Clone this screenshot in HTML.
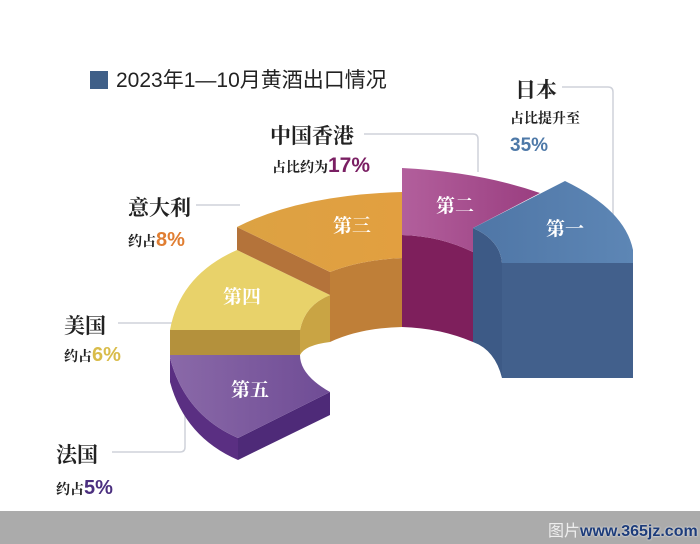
<!DOCTYPE html>
<html><head><meta charset="utf-8"><style>
body{margin:0;width:700px;height:544px;background:#fff;overflow:hidden;position:relative;font-family:"Liberation Serif","Noto Serif CJK SC",serif}
.t{position:absolute;white-space:nowrap;color:#222;font-weight:bold}
</style></head><body>
<div style="position:absolute;left:90px;top:64px;font-family:'Liberation Sans','Noto Sans CJK SC',sans-serif;font-size:21px;color:#222"><span style="display:inline-block;width:18px;height:18px;background:#3f5f88;vertical-align:-2px;margin-right:8px"></span>2023年1—10月黄酒出口情况</div>
<svg width="700" height="544" style="position:absolute;left:0;top:0">
<defs>
<linearGradient id="gb" x1="0" x2="1"><stop offset="0" stop-color="#4f76a6"/><stop offset="1" stop-color="#5d86b5"/></linearGradient>
<linearGradient id="gm" x1="0" x2="1"><stop offset="0" stop-color="#b25f9c"/><stop offset="1" stop-color="#9a3e80"/></linearGradient>
<linearGradient id="go" x1="0" x2="1"><stop offset="0" stop-color="#dca243"/><stop offset="1" stop-color="#e29f40"/></linearGradient>
<linearGradient id="gp" x1="0" x2="1"><stop offset="0" stop-color="#8a69a8"/><stop offset="1" stop-color="#6f4c95"/></linearGradient>
</defs>
<g fill="none" stroke="#cfd2da" stroke-width="1.5">
<path d="M562 87 H608 Q613 87 613 92 V215"/>
<path d="M364 134 H473 Q478 134 478 139 V172"/>
<path d="M196 205 H240"/>
<path d="M118 323 H172"/>
<path d="M112 452 H180 Q185 452 185 447 V405"/>
</g>
<!-- purple -->
<path d="M170 358 Q185 415 238 438 L238 460 Q185 437 170 382 Z" fill="#5a2f82"/>
<path d="M238 438 L330 392 L330 415 L238 460 Z" fill="#4e2a78"/>
<path d="M170 355 L300 355 Q300 375 330 392 L238 438 Q185 415 170 358 Z" fill="url(#gp)"/>
<!-- yellow -->
<path d="M170 330 L300 330 L300 355 L170 355 Z" fill="#b4913c"/>
<path d="M300 330 Q305 305 330 295 L330 342 Q305 345 300 355 Z" fill="#c9a444"/>
<path d="M170 330 Q180 275 237 250 L330 295 Q305 305 300 330 Z" fill="#e8d26a"/>
<!-- orange -->
<path d="M237 227 L330 272 L330 295 L237 250 Z" fill="#b4733a"/>
<path d="M330 272 Q360 260 402 258 L402 327 Q360 328 330 342 Z" fill="#bf7f38"/>
<path d="M237 227 Q300 195 402 192 L402 258 Q360 260 330 272 Z" fill="url(#go)"/>
<!-- magenta -->
<path d="M402 235 Q440 236 473 252 L473 342 Q440 328 402 327 Z" fill="#7e1f5c"/>
<path d="M402 168 Q480 172 540 193 L473 228 L473 252 Q440 236 402 235 Z" fill="url(#gm)"/>
<!-- blue -->
<path d="M473 228 Q500 240 502 263 L502 378 Q495 350 473 342 Z" fill="#3d5a86"/>
<path d="M502 263 L633 263 L633 378 L502 378 Z" fill="#42608c"/>
<path d="M473 228 L565 181 Q625 210 633 250 L633 263 L502 263 Q500 240 473 228 Z" fill="url(#gb)"/>
<g fill="#fff" font-weight="bold" font-size="19" font-family="Liberation Serif,Noto Serif CJK SC,serif" text-anchor="middle">
<text x="565" y="235">第一</text>
<text x="455" y="212">第二</text>
<text x="352" y="232">第三</text>
<text x="242" y="303">第四</text>
<text x="250" y="396">第五</text>
</g>
</svg>
<div class="t" style="left:515px;top:74px;font-size:21px">日本</div>
<div class="t" style="left:510px;top:108px;font-size:14px">占比提升至</div>
<div class="t" style="left:510px;top:135px;font-size:19px;color:#4e79a8;font-family:'Liberation Sans',sans-serif">35%</div>
<div class="t" style="left:270px;top:120px;font-size:21px">中国香港</div>
<div class="t" style="left:272px;top:154px;font-size:14px">占比约为<span style="font-size:21px;color:#7a1f63;font-family:'Liberation Sans',sans-serif">17%</span></div>
<div class="t" style="left:128px;top:192px;font-size:21px">意大利</div>
<div class="t" style="left:128px;top:229px;font-size:14px">约占<span style="font-size:20px;color:#e07e32;font-family:'Liberation Sans',sans-serif">8%</span></div>
<div class="t" style="left:64px;top:310px;font-size:21px">美国</div>
<div class="t" style="left:64px;top:344px;font-size:14px">约占<span style="font-size:20px;color:#d9bc4a;font-family:'Liberation Sans',sans-serif">6%</span></div>
<div class="t" style="left:56px;top:439px;font-size:21px">法国</div>
<div class="t" style="left:56px;top:477px;font-size:14px">约占<span style="font-size:20px;color:#4b2f7f;font-family:'Liberation Sans',sans-serif">5%</span></div>
<div style="position:absolute;left:0;top:511px;width:700px;height:33px;background:#ababab"></div>
<div style="position:absolute;left:548px;top:517px;font-family:'Liberation Sans','Noto Sans CJK SC',sans-serif;font-size:16px;color:#eee">图片<span style="color:#1d3c7a;font-weight:bold;text-shadow:0 0 2px #fff">www.365jz.com</span></div>
</body></html>
